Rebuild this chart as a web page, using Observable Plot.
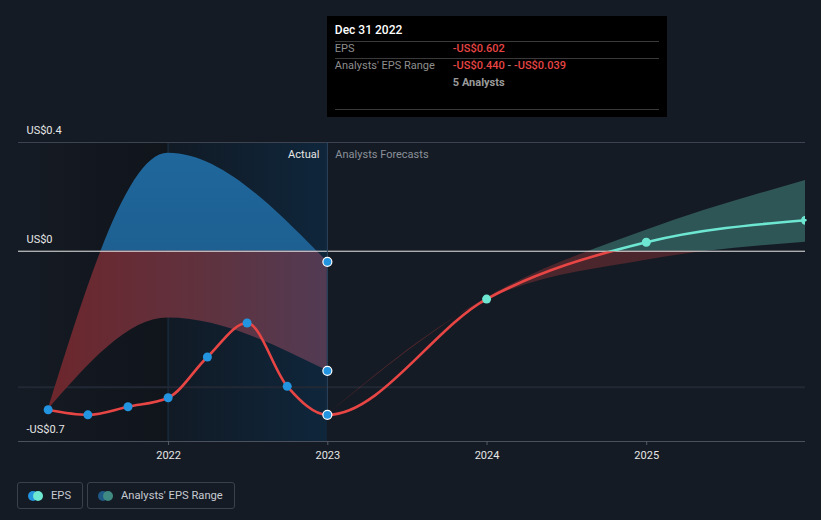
<!DOCTYPE html>
<html>
<head>
<meta charset="utf-8">
<script src="https://cdn.jsdelivr.net/npm/d3@7"></script>
<script src="https://cdn.jsdelivr.net/npm/@observablehq/plot@0.6"></script>
<style>
  html, body { margin: 0; padding: 0; background: #151b24; }
  #wrap { position: relative; width: 821px; height: 520px; font-family: Roboto, "Noto Sans", sans-serif; overflow: hidden; }
  #chart { position: absolute; left: 0; top: 0; }
  .tip { position: absolute; top: 16px; width: 340px; height: 101px; background: #000; font-size: 11px; }
  .tip .t { position: absolute; left: 8px; line-height: 14px; white-space: nowrap; }
  .tip .sep { position: absolute; left: 8px; right: 8px; height: 1px; background: #3a3a3a; }
  .tip .red { color: #e84545; }
  .legend { position: absolute; top: 482px; left: 17px; display: flex; gap: 4px; }
  .legend .item { box-sizing: border-box; height: 27px; border: 1px solid #3a404c; border-radius: 3px; display: flex; align-items: center; padding: 0 11px 0 10px; color: #c6cad1; font-size: 11.2px; white-space: nowrap; }
  .legend .sw { position: relative; width: 15px; height: 10px; margin-right: 8px; }
  .legend .sw span { position: absolute; top: 0; width: 10px; height: 10px; border-radius: 50%; }
</style>
</head>
<body>
<div id="wrap"><div id="chart"></div></div>
<script>
// ---- data ----
const epsDates = ["2021-03-31","2021-06-30","2021-09-30","2021-12-31","2022-03-31","2022-06-30","2022-09-30","2022-12-31","2023-12-31","2024-12-31","2025-12-31"];
const epsValues = [-0.583,-0.602,-0.572,-0.539,-0.389,-0.264,-0.497,-0.602,-0.176,0.033,0.114];
const epsKinds = ["actual","actual","actual","actual","actual","actual","actual","actual","forecast","forecast","forecast"];

const pastRangeDates = ["2021-03-31","2021-12-31","2022-12-31"];
const pastRangeLow = [-0.583,-0.246,-0.440];
const pastRangeHigh = [-0.583,0.360,-0.039];

const forecastRangeDates = ["2022-12-31","2023-12-31","2024-12-31","2025-12-31"];
const forecastRangeLow = [-0.602,-0.180,-0.033,0.033];
const forecastRangeHigh = [-0.602,-0.172,0.077,0.260];

const yLabelTicks = [0.4, 0, -0.7];
const yGridExtra = [-0.5];
const xTickDates = ["2022-01-01","2023-01-01","2024-01-01","2025-01-01"];
const xDomainDates = ["2021-01-22","2025-12-31"];
const yDomain = [-0.7, 0.4];
const highlightDates = ["2021-12-31","2022-12-31"];

const tipDate = "Dec 31 2022";
const tipEps = "-US$0.602";
const tipRangeLow = "-US$0.440";
const tipRangeHigh = "-US$0.039";
const tipAnalysts = "5 Analysts";
const labelActual = "Actual";
const labelForecast = "Analysts Forecasts";
const legendItems = ["EPS", "Analysts' EPS Range"];

// ---- build ----
const parse = d3.utcParse("%Y-%m-%d");
const eps = epsDates.map((d, i) => ({date: parse(d), value: epsValues[i], kind: epsKinds[i]}));
const pastRange = pastRangeDates.map((d, i) => ({date: parse(d), low: pastRangeLow[i], high: pastRangeHigh[i]}));
const fcRange = forecastRangeDates.map((d, i) => ({date: parse(d), low: forecastRangeLow[i], high: forecastRangeHigh[i]}));
const xDomain = xDomainDates.map(parse);
const xTicks = xTickDates.map(parse);
const hl = highlightDates.map(parse);
const actual = eps.filter(d => d.kind === "actual");
const lastActual = actual[actual.length - 1];
const forecast = eps.filter(d => d.kind === "forecast");
const lastRange = pastRange[pastRange.length - 1];
const endDots = [
  {date: lastActual.date, value: lastActual.value},
  {date: lastRange.date, value: lastRange.low},
  {date: lastRange.date, value: lastRange.high}
];
const fmtY = v => v === 0 ? "US$0" : (v < 0 ? "-" : "") + "US$" + Math.abs(v);

const chart = Plot.plot({
  width: 821, height: 470,
  marginLeft: 18, marginRight: 16, marginTop: 142, marginBottom: 29,
  style: {background: "transparent", color: "#e6e6e6", fontFamily: "Roboto, sans-serif", fontSize: "11px"},
  x: {type: "utc", domain: xDomain, axis: null},
  y: {domain: yDomain, axis: null},
  marks: [
    Plot.rect([0], {x1: () => xDomain[0], x2: () => hl[0], y1: () => yDomain[0], y2: () => yDomain[1], fill: "url(#bgLeft)"}),
    Plot.rect([0], {x1: () => hl[0], x2: () => hl[1], y1: () => yDomain[0], y2: () => yDomain[1], fill: "url(#bgRight)"}),
    Plot.ruleX([hl[0]], {stroke: "#1d3044"}),
    Plot.ruleY([yDomain[1]], {stroke: "#3d4350"}),
    Plot.ruleY(yGridExtra, {stroke: "#222935", strokeWidth: 2}),
    Plot.ruleY([yDomain[0]], {stroke: "#4a505c"}),
    // past range band (blue above zero, red below)
    Plot.areaY(pastRange, {x: "date", y1: "low", y2: "high", curve: "monotone-x", fill: "url(#pastBlue)"}),
    Plot.areaY(pastRange, {x: "date", y1: "low", y2: "high", curve: "monotone-x", fill: "url(#pastRed)"}),
    // forecast range band
    Plot.areaY(fcRange, {x: "date", y1: "low", y2: "high", curve: "monotone-x", fill: "rgba(110,231,210,0.29)"}),
    Plot.areaY(fcRange, {x: "date", y1: "low", y2: "high", curve: "monotone-x", fill: "rgba(230,68,68,0.26)"}),
    Plot.ruleY([0], {stroke: "#e8e8e8"}),
    Plot.ruleX([lastActual.date], {y1: yDomain[0], y2: yDomain[1], insetTop: -25, stroke: "#2b4660"}),
    // EPS line
    Plot.line(eps, {x: "date", y: "value", curve: "monotone-x", stroke: "#e84545", strokeWidth: 2.6}),
    Plot.line(eps, {x: "date", y: "value", curve: "monotone-x", stroke: "#6ee7d2", strokeWidth: 2.6}),
    // dots
    Plot.dot(actual.slice(0, -1), {x: "date", y: "value", r: 4.5, fill: "#2394df"}),
    Plot.dot(endDots, {x: "date", y: "value", r: 4.5, fill: "#2394df", stroke: "#ffffff", strokeWidth: 1.2}),
    Plot.dot(forecast, {x: "date", y: "value", r: 4.5, fill: "#6ee7d2", clip: true}),
    // labels
    Plot.text(yLabelTicks, {y: d => d, frameAnchor: "left", dx: 8, dy: -12, textAnchor: "start", text: fmtY, fill: "#e6e6e6"}),
    Plot.ruleX(xTicks, {y1: yDomain[0], y2: yDomain[0], insetBottom: -4, stroke: "#555b66"}),
    Plot.text(xTicks, {x: d => d, y: () => yDomain[0], dy: 14, text: d3.utcFormat("%Y"), fill: "#e6e6e6"}),
    Plot.text([labelActual], {x: () => lastActual.date, y: () => yDomain[1], dy: 12, dx: -8, textAnchor: "end", text: d => d, fill: "#e6e6e6"}),
    Plot.text([labelForecast], {x: () => lastActual.date, y: () => yDomain[1], dy: 12, dx: 8, textAnchor: "start", text: d => d, fill: "#8a9099"})
  ]
});
document.getElementById("chart").appendChild(chart);

// gradients & clip paths
const svg = d3.select(chart);
const y0 = chart.scale("y").apply(0);
const defs = svg.insert("defs", ":first-child");
function lg(id, stops, vertical) {
  const g = defs.append("linearGradient").attr("id", id).attr("x1", 0).attr("y1", 0)
    .attr("x2", vertical ? 0 : 1).attr("y2", vertical ? 1 : 0);
  stops.forEach(([o, c]) => g.append("stop").attr("offset", o).attr("stop-color", c));
}
lg("bgLeft", [[0, "#151b24"], [1, "#10141b"]]);
lg("bgRight", [[0, "#111a25"], [1, "#0f263b"]]);
lg("pastBlue", [[0, "#1f679c"], [1, "#1c5480"]], true);
lg("pastRed", [[0, "#6d262c"], [0.6, "#5e3340"], [1, "#523b54"]]);
defs.append("clipPath").attr("id", "clipAbove").append("rect")
  .attr("x", 0).attr("y", 0).attr("width", 821).attr("height", y0);
defs.append("clipPath").attr("id", "clipBelow").append("rect")
  .attr("x", 0).attr("y", y0).attr("width", 821).attr("height", 470 - y0);
const areas = chart.querySelectorAll('g[aria-label="area"]');
if (areas.length === 4) {
  areas[0].setAttribute("clip-path", "url(#clipAbove)");
  areas[1].setAttribute("clip-path", "url(#clipBelow)");
  areas[2].setAttribute("clip-path", "url(#clipAbove)");
  areas[3].setAttribute("clip-path", "url(#clipBelow)");
}
const lines = chart.querySelectorAll('g[aria-label="line"]');
if (lines.length === 2) {
  lines[0].setAttribute("clip-path", "url(#clipBelow)");
  lines[1].setAttribute("clip-path", "url(#clipAbove)");
}

// tooltip
const wrap = document.getElementById("wrap");
const tx = chart.scale("x").apply(lastActual.date);
const tip = document.createElement("div");
tip.className = "tip";
tip.style.left = tx + "px";
tip.innerHTML = `
  <div class="t" style="top:7px;color:#fff;font-size:12px;font-weight:500">${tipDate}</div>
  <div class="sep" style="top:25px"></div>
  <div class="t" style="top:26px;color:#8e8e8e">EPS</div>
  <div class="t red" style="top:26px;left:126px;font-weight:500">${tipEps}</div>
  <div class="sep" style="top:42px"></div>
  <div class="t" style="top:43px;color:#8e8e8e">Analysts' EPS Range</div>
  <div class="t" style="top:43px;left:126px;font-weight:500"><span class="red">${tipRangeLow}</span><span style="color:#8e8e8e"> - </span><span class="red">${tipRangeHigh}</span></div>
  <div class="t" style="top:60px;left:126px;color:#9a9a9a;font-weight:700">${tipAnalysts}</div>
  <div class="sep" style="top:93px"></div>`;
wrap.appendChild(tip);

// legend
const legend = document.createElement("div");
legend.className = "legend";
const swatches = [["#2394df", "#6ee7d2"], ["#1f5a87", "#3f8a82"]];
legendItems.forEach((name, i) => {
  const it = document.createElement("div");
  it.className = "item";
  it.innerHTML = `<div class="sw"><span style="left:0;background:${swatches[i][0]}"></span><span style="left:5px;background:${swatches[i][1]}"></span></div>${name}`;
  legend.appendChild(it);
});
wrap.appendChild(legend);
</script>
</body>
</html>
